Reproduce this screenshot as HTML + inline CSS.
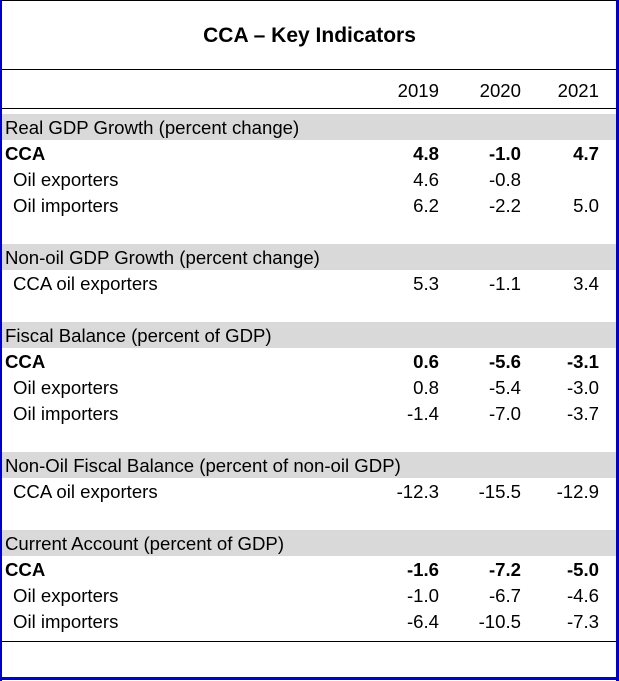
<!DOCTYPE html>
<html><head><style>
body{margin:0;width:619px;height:681px;background:#fff;position:relative;overflow:hidden;font-family:"Liberation Sans",sans-serif;color:#000}
.b{position:absolute}
.t{position:absolute;font-size:18.6px;line-height:26px;white-space:nowrap;margin-top:1px}
.r{text-align:right;width:80px}
.band{position:absolute;left:2px;width:614px;height:26px;background:#d9d9d9}
.bold{font-weight:bold}
</style></head><body>
<div class="b" style="left:0;top:0;width:619px;height:1px;background:#000"></div>
<div class="b" style="left:0;top:0;width:2px;height:681px;background:#0000c8"></div>
<div class="b" style="left:616px;top:0;width:3px;height:681px;background:#0000c8"></div>
<div class="b" style="left:0;top:677px;width:619px;height:3px;background:#0000c8"></div>
<div class="b" style="left:2px;top:69px;width:614px;height:1px;background:#000"></div>
<div class="b" style="left:2px;top:108px;width:614px;height:1px;background:#000"></div>
<div class="b" style="left:2px;top:641px;width:614px;height:1px;background:#000"></div>
<div class="t bold" style="left:0;width:619px;text-align:center;top:22px;font-size:21px">CCA – Key Indicators</div>
<div class="band" style="top:114px"></div>
<div class="band" style="top:244px"></div>
<div class="band" style="top:322px"></div>
<div class="band" style="top:452px"></div>
<div class="band" style="top:530px"></div>
<div class="t r" style="left:359px;top:77px">2019</div>
<div class="t r" style="left:441px;top:77px">2020</div>
<div class="t r" style="left:519px;top:77px">2021</div>

<div class="t" style="left:5px;top:114px">Real GDP Growth (percent change)</div>
<div class="t bold" style="left:5px;top:140px">CCA</div>
<div class="t bold r" style="left:359px;top:140px">4.8</div><div class="t bold r" style="left:441px;top:140px">-1.0</div><div class="t bold r" style="left:519px;top:140px">4.7</div>
<div class="t" style="left:13px;top:166px">Oil exporters</div>
<div class="t r" style="left:359px;top:166px">4.6</div><div class="t r" style="left:441px;top:166px">-0.8</div>
<div class="t" style="left:13px;top:192px">Oil importers</div>
<div class="t r" style="left:359px;top:192px">6.2</div><div class="t r" style="left:441px;top:192px">-2.2</div><div class="t r" style="left:519px;top:192px">5.0</div>

<div class="t" style="left:5px;top:244px">Non-oil GDP Growth (percent change)</div>
<div class="t" style="left:13px;top:270px">CCA oil exporters</div>
<div class="t r" style="left:359px;top:270px">5.3</div><div class="t r" style="left:441px;top:270px">-1.1</div><div class="t r" style="left:519px;top:270px">3.4</div>

<div class="t" style="left:5px;top:322px">Fiscal Balance (percent of GDP)</div>
<div class="t bold" style="left:5px;top:348px">CCA</div>
<div class="t bold r" style="left:359px;top:348px">0.6</div><div class="t bold r" style="left:441px;top:348px">-5.6</div><div class="t bold r" style="left:519px;top:348px">-3.1</div>
<div class="t" style="left:13px;top:374px">Oil exporters</div>
<div class="t r" style="left:359px;top:374px">0.8</div><div class="t r" style="left:441px;top:374px">-5.4</div><div class="t r" style="left:519px;top:374px">-3.0</div>
<div class="t" style="left:13px;top:400px">Oil importers</div>
<div class="t r" style="left:359px;top:400px">-1.4</div><div class="t r" style="left:441px;top:400px">-7.0</div><div class="t r" style="left:519px;top:400px">-3.7</div>

<div class="t" style="left:5px;top:452px">Non-Oil Fiscal Balance (percent of non-oil GDP)</div>
<div class="t" style="left:13px;top:478px">CCA oil exporters</div>
<div class="t r" style="left:359px;top:478px">-12.3</div><div class="t r" style="left:441px;top:478px">-15.5</div><div class="t r" style="left:519px;top:478px">-12.9</div>

<div class="t" style="left:5px;top:530px">Current Account (percent of GDP)</div>
<div class="t bold" style="left:5px;top:556px">CCA</div>
<div class="t bold r" style="left:359px;top:556px">-1.6</div><div class="t bold r" style="left:441px;top:556px">-7.2</div><div class="t bold r" style="left:519px;top:556px">-5.0</div>
<div class="t" style="left:13px;top:582px">Oil exporters</div>
<div class="t r" style="left:359px;top:582px">-1.0</div><div class="t r" style="left:441px;top:582px">-6.7</div><div class="t r" style="left:519px;top:582px">-4.6</div>
<div class="t" style="left:13px;top:608px">Oil importers</div>
<div class="t r" style="left:359px;top:608px">-6.4</div><div class="t r" style="left:441px;top:608px">-10.5</div><div class="t r" style="left:519px;top:608px">-7.3</div>
</body></html>
